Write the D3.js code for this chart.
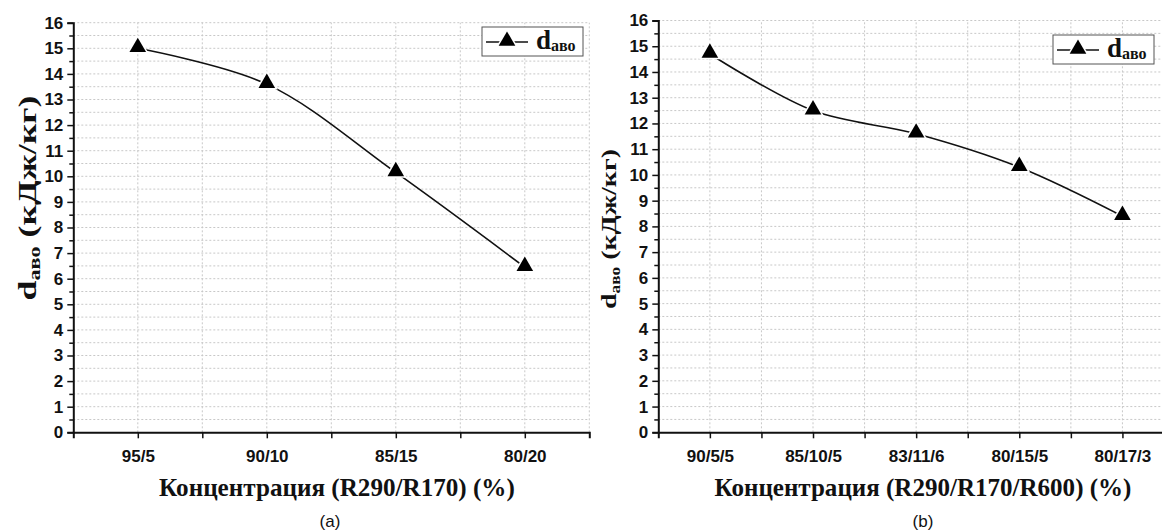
<!DOCTYPE html>
<html>
<head>
<meta charset="utf-8">
<script src="https://cdn.jsdelivr.net/npm/d3@7"></script>
<style>
  body { margin: 0; background: #fff; }
  svg { display: block; }
  .axis path, .axis line { stroke: #111; }
  .serif { font-family: "Liberation Serif", "Times New Roman", serif; font-weight: bold; fill: #111; }
  .sans { font-family: "Liberation Sans", Arial, sans-serif; fill: #111; }
</style>
</head>
<body>
<script>
// panel (a)
var catsA = ["95/5", "90/10", "85/15", "80/20"];
var valsA = [15.0, 13.6, 10.15, 6.45];
// panel (b)
var catsB = ["90/5/5", "85/10/5", "83/11/6", "80/15/5", "80/17/3"];
var valsB = [14.7, 12.5, 11.6, 10.3, 8.4];

var yTicks = d3.range(0, 17);          // 0..16
var yMinor = d3.range(0.5, 16, 1);     // half steps

var width = 1162, height = 531;

var svg = d3.select("body").append("svg")
    .attr("width", width)
    .attr("height", height);

var tri = d3.symbol().type(d3.symbolTriangle);

function styleAxis(s) {
    s.select(".domain").attr("stroke-width", 2);
    s.selectAll(".tick line").attr("stroke-width", 1.5);
    s.selectAll(".tick text")
        .style("font-family", "'Liberation Sans', Arial, sans-serif")
        .style("font-weight", "bold")
        .style("font-size", "17px")
        .style("fill", "#111");
}

// squeeze a text horizontally to a target width (keeps the tall condensed look)
function fitWidth(sel, cx, cy, target) {
    var w = sel.node().getComputedTextLength();
    sel.attr("transform", "translate(" + cx + "," + cy + ") scale(" + (target / w) + ",1)");
}

function drawPanel(p) {
    var n = p.cats.length;
    var x = d3.scaleLinear().domain([0.5, n + 0.5]).range([p.left, p.right]);
    var y = d3.scaleLinear().domain([0, 16]).range([p.bottom, p.top]);

    var g = svg.append("g");

    // dotted grid, majors and halves
    var gridY = d3.range(0.5, 16.01, 0.5);
    var gridX = d3.range(1, n + 0.51, 0.5);
    g.selectAll(".gy").data(gridY).enter().append("line")
        .attr("x1", p.left).attr("x2", p.right)
        .attr("y1", function(d) { return y(d); }).attr("y2", function(d) { return y(d); })
        .attr("stroke", "#c8c8c8").attr("stroke-width", 1).attr("stroke-dasharray", "2,2");
    g.selectAll(".gx").data(gridX).enter().append("line")
        .attr("x1", function(d) { return x(d); }).attr("x2", function(d) { return x(d); })
        .attr("y1", p.bottom).attr("y2", y(16))
        .attr("stroke", "#c8c8c8").attr("stroke-width", 1).attr("stroke-dasharray", "2,2");

    // y axis, major + minor ticks
    g.append("g").attr("class", "axis")
        .attr("transform", "translate(" + p.left + ",0)")
        .call(d3.axisLeft(y).tickValues(yTicks).tickSize(6).tickPadding(4).tickFormat(d3.format("d")))
        .call(styleAxis);
    g.append("g").attr("class", "axis")
        .attr("transform", "translate(" + p.left + ",0)")
        .call(d3.axisLeft(y).tickValues(yMinor).tickSize(4).tickFormat(""))
        .call(function(s) { s.select(".domain").remove(); s.selectAll(".tick line").attr("stroke-width", 1.5); });

    // x axis, category ticks + in-between ticks
    g.append("g").attr("class", "axis")
        .attr("transform", "translate(0," + p.bottom + ")")
        .call(d3.axisBottom(x).tickValues(d3.range(1, n + 1)).tickSize(6).tickPadding(12)
            .tickFormat(function(d) { return p.cats[d - 1]; }))
        .call(styleAxis);
    g.append("g").attr("class", "axis")
        .attr("transform", "translate(0," + p.bottom + ")")
        .call(d3.axisBottom(x).tickValues(d3.range(1.5, n, 1)).tickSize(6).tickFormat(""))
        .call(function(s) { s.select(".domain").remove(); s.selectAll(".tick line").attr("stroke-width", 1.5); });

    // smooth line
    var line = d3.line()
        .x(function(d, i) { return x(i + 1); })
        .y(function(d) { return y(d); })
        .curve(d3.curveCatmullRom.alpha(0.5));
    g.append("path").datum(p.vals)
        .attr("d", line)
        .attr("fill", "none").attr("stroke", "#111").attr("stroke-width", 1.6);

    // triangle markers, white halo gives the gap in the line
    g.selectAll(".pt").data(p.vals).enter().append("path")
        .attr("d", tri.size(120))
        .attr("transform", function(d, i) { return "translate(" + x(i + 1) + "," + (y(d) - 1) + ")"; })
        .attr("fill", "#000").attr("stroke", "#fff").attr("stroke-width", 3)
        .attr("paint-order", "stroke");

    // y title
    var yt = g.append("text").attr("class", "serif")
        .attr("transform", "translate(" + p.ytX + "," + p.ytY + ") rotate(-90)")
        .attr("text-anchor", "middle")
        .attr("font-size", p.ytSize)
        .attr("textLength", p.ytLen).attr("lengthAdjust", "spacingAndGlyphs");
    yt.append("tspan").text("d");
    yt.append("tspan").attr("font-size", p.ytSize * 0.62).attr("dy", 4).text("аво");
    yt.append("tspan").attr("dy", -4).text(" (кДж/кг)");

    // x title
    var xt = g.append("text").attr("class", "serif")
        .attr("text-anchor", "middle")
        .attr("font-size", 26)
        .text(p.xTitle);
    fitWidth(xt, p.xtX, 496, p.xtLen);

    // panel letter
    g.append("text").attr("class", "sans")
        .attr("x", p.letterX).attr("y", 527)
        .attr("text-anchor", "middle")
        .attr("font-size", 17)
        .text(p.letter);

    // legend
    var lg = g.append("g").attr("transform", "translate(" + p.legX + "," + p.legY + ")");
    lg.append("rect").attr("width", p.legW).attr("height", 29)
        .attr("fill", "#fff").attr("stroke", "#555").attr("stroke-width", 1);
    lg.append("line").attr("x1", 4).attr("x2", 46).attr("y1", 15).attr("y2", 15)
        .attr("stroke", "#111").attr("stroke-width", 1.6);
    lg.append("path").attr("d", tri.size(120))
        .attr("transform", "translate(25,14)")
        .attr("fill", "#000").attr("stroke", "#fff").attr("stroke-width", 3).attr("paint-order", "stroke");
    var lt = lg.append("text").attr("class", "serif").attr("x", 54).attr("y", 22).attr("font-size", 27);
    lt.append("tspan").text("d");
    lt.append("tspan").attr("font-size", 16).attr("dy", 2).text("аво");
}

drawPanel({
    cats: catsA, vals: valsA,
    left: 73.3, right: 589.3, top: 22.7, bottom: 432.3,
    ytX: 36, ytY: 198, ytSize: 26, ytLen: 205,
    xTitle: "Концентрация (R290/R170) (%)", xtX: 337, xtLen: 356,
    letter: "(a)", letterX: 330,
    legX: 482, legY: 27, legW: 101
});

drawPanel({
    cats: catsB, vals: valsB,
    left: 658.3, right: 1174, top: 20.5, bottom: 432.3,
    ytX: 616, ytY: 229, ytSize: 22, ytLen: 160,
    xTitle: "Концентрация (R290/R170/R600) (%)", xtX: 923, xtLen: 417,
    letter: "(b)", letterX: 923,
    legX: 1053, legY: 35, legW: 101
});
</script>
</body>
</html>
